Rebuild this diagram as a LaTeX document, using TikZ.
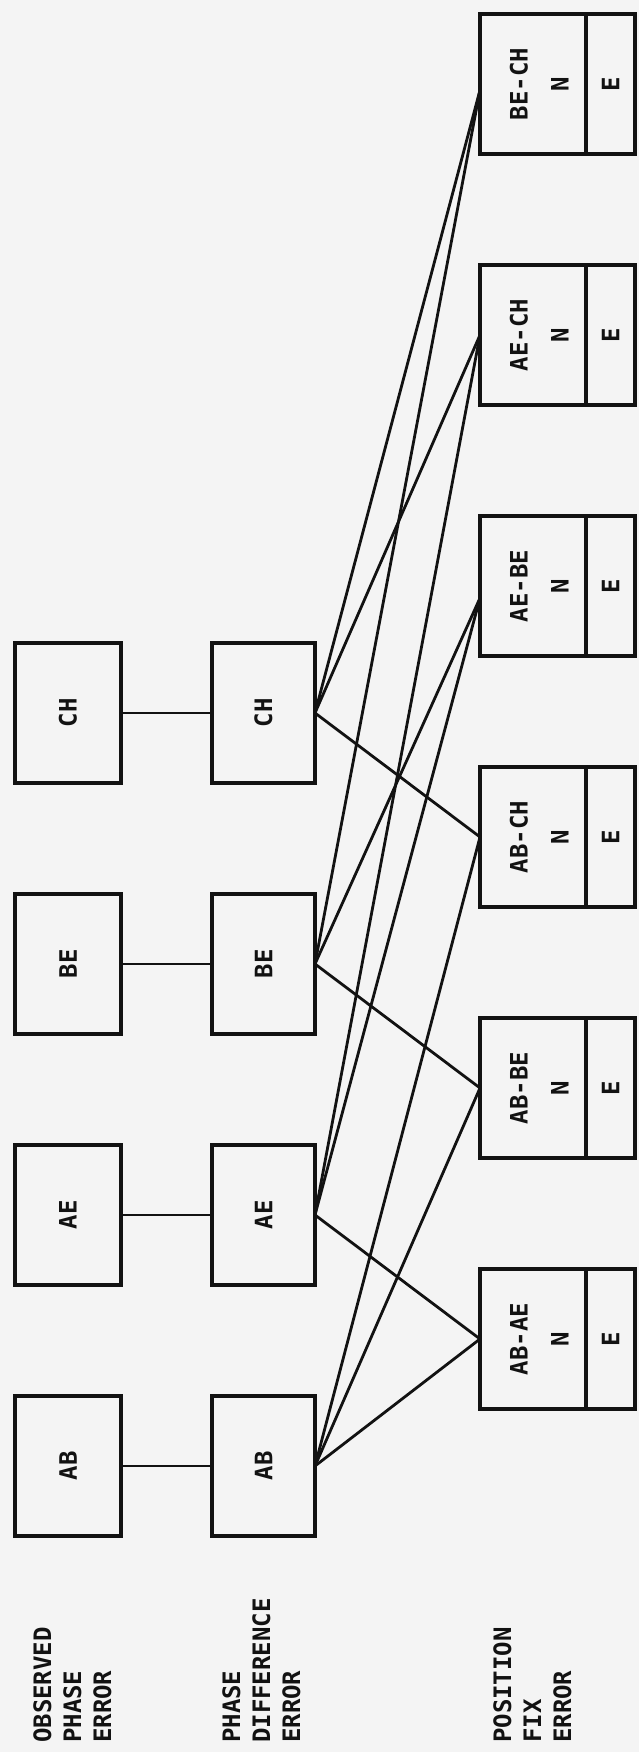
\documentclass[tikz,border=0pt]{standalone}
\usepackage{graphicx}
\usepackage{fontspec}
\setmonofont{DejaVu Sans Mono}
\usepackage{tikz}
\usetikzlibrary{positioning}
\definecolor{inkBlack}{RGB}{18,18,18}
\definecolor{paperGray}{RGB}{244,244,244}
\newcommand{\boxfont}{\fontsize{24}{30}\selectfont\ttfamily\bfseries}
\newcommand{\fixtext}[1]{\rotatebox{90}{\begin{tabular}{@{}c@{}}\rule{0pt}{39pt}#1\\[11pt]N\end{tabular}}}
\tikzset{
  errbox/.style={
    rectangle, draw=inkBlack, line width=3.8pt, outer sep=0pt, inner sep=0pt,
    minimum width=106pt, minimum height=140pt, font=\boxfont, text=inkBlack
  },
  difbox/.style={errbox, minimum width=103pt},
  fixbox/.style={errbox, minimum width=106pt},
  fixEbox/.style={errbox, minimum width=49pt},
  rowlabel/.style={rotate=90, anchor=north west, align=left, inner sep=0pt,
    font=\boxfont, text=inkBlack},
  linkline/.style={line width=2.8pt, color=inkBlack}
}

\begin{document}
\begin{tikzpicture}[x=1pt, y=1pt]
  \fill[paperGray] (0,0) rectangle (639,1752);
  \path[use as bounding box] (0,0) rectangle (639,1752);

  % row labels
  \node[rowlabel] (obsLabel) at (33,9) {OBSERVED\\PHASE\\ERROR};
  \node[rowlabel] (difLabel) at (222,9) {PHASE\\DIFFERENCE\\ERROR};
  \node[rowlabel] (fixLabel) at (493,9) {POSITION\\FIX\\ERROR};

  % observed phase error
  \node[errbox] (obsAB) at (68,286) {\rotatebox{90}{AB}};
  \node[errbox] (obsAE) at (68,537) {\rotatebox{90}{AE}};
  \node[errbox] (obsBE) at (68,788) {\rotatebox{90}{BE}};
  \node[errbox] (obsCH) at (68,1039) {\rotatebox{90}{CH}};

  % phase difference error
  \node[difbox] (difAB) at (263.5,286) {\rotatebox{90}{AB}};
  \node[difbox] (difAE) at (263.5,537) {\rotatebox{90}{AE}};
  \node[difbox] (difBE) at (263.5,788) {\rotatebox{90}{BE}};
  \node[difbox] (difCH) at (263.5,1039) {\rotatebox{90}{CH}};

  % position fix error
  \node[fixbox] (fixABAE) at (533,413) {\fixtext{AB-AE}};
  \node[fixEbox, right=0pt of fixABAE] (fixABAEe) {\rotatebox{90}{E}};
  \node[fixbox] (fixABBE) at (533,664) {\fixtext{AB-BE}};
  \node[fixEbox, right=0pt of fixABBE] (fixABBEe) {\rotatebox{90}{E}};
  \node[fixbox] (fixABCH) at (533,915) {\fixtext{AB-CH}};
  \node[fixEbox, right=0pt of fixABCH] (fixABCHe) {\rotatebox{90}{E}};
  \node[fixbox] (fixAEBE) at (533,1166) {\fixtext{AE-BE}};
  \node[fixEbox, right=0pt of fixAEBE] (fixAEBEe) {\rotatebox{90}{E}};
  \node[fixbox] (fixAECH) at (533,1417) {\fixtext{AE-CH}};
  \node[fixEbox, right=0pt of fixAECH] (fixAECHe) {\rotatebox{90}{E}};
  \node[fixbox] (fixBECH) at (533,1668) {\fixtext{BE-CH}};
  \node[fixEbox, right=0pt of fixBECH] (fixBECHe) {\rotatebox{90}{E}};

  % observed -> difference
  \draw[linkline] (obsAB.east) -- (difAB.west);
  \draw[linkline] (obsAE.east) -- (difAE.west);
  \draw[linkline] (obsBE.east) -- (difBE.west);
  \draw[linkline] (obsCH.east) -- (difCH.west);

  % difference -> fix
  \draw[linkline] (difAB.east) -- (fixABAE.west);
  \draw[linkline] (difAB.east) -- (fixABBE.west);
  \draw[linkline] (difAB.east) -- (fixABCH.west);
  \draw[linkline] (difAE.east) -- (fixABAE.west);
  \draw[linkline] (difAE.east) -- ([yshift=-12pt]fixAEBE.west);
  \draw[linkline] (difAE.east) -- (fixAECH.west);
  \draw[linkline] (difBE.east) -- (fixABBE.west);
  \draw[linkline] (difBE.east) -- ([yshift=-12pt]fixAEBE.west);
  \draw[linkline] (difBE.east) -- ([yshift=-6pt]fixBECH.west);
  \draw[linkline] (difCH.east) -- (fixABCH.west);
  \draw[linkline] (difCH.east) -- (fixAECH.west);
  \draw[linkline] (difCH.east) -- ([yshift=-6pt]fixBECH.west);
\end{tikzpicture}
\end{document}
